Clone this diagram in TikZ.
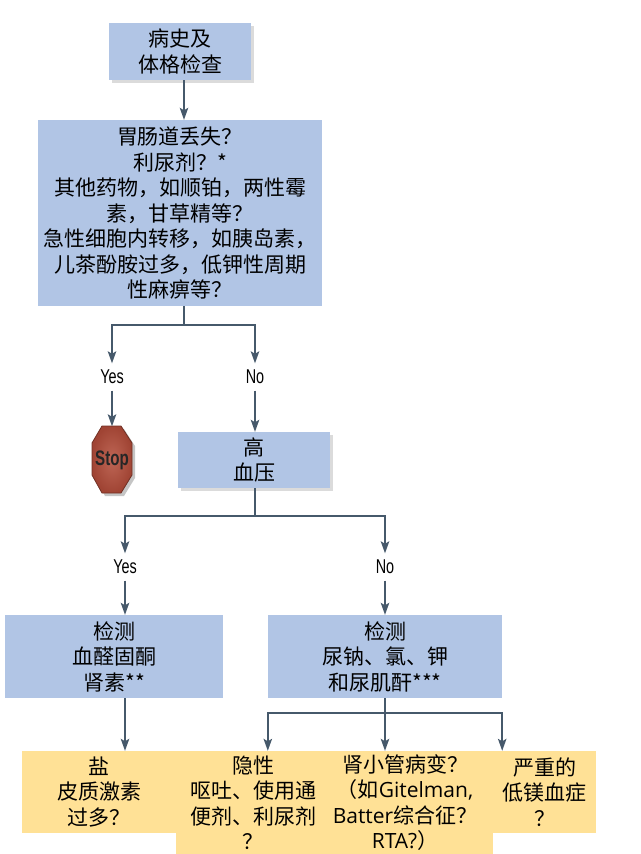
\documentclass[tikz,border=0pt]{standalone}
\usepackage{fontspec}
\setmainfont{Noto Sans CJK SC}
\newfontfamily\latinfont{Open Sans}
\newfontfamily\labelfont[FakeStretch=0.72]{Liberation Sans}
\usetikzlibrary{arrows.meta,shadows}
\definecolor{boxblue}{HTML}{B1C5E5}
\definecolor{boxyellow}{HTML}{FFE196}
\definecolor{linegray}{HTML}{46596B}
\definecolor{stopinner}{HTML}{BE6655}
\definecolor{stopouter}{HTML}{A04434}
\tikzset{
  flowbox/.style={fill=boxblue,inner sep=0pt,align=center,font=\fontsize{21}{25.5}\selectfont},
  endbox/.style={fill=boxyellow,inner sep=0pt,align=center,font=\fontsize{21}{25.5}\selectfont},
  softshadow/.style={drop shadow={shadow xshift=2.5pt,shadow yshift=-2.5pt,fill=black!35,opacity=0.4}},
  answer/.style={inner sep=0pt,minimum width=30pt,minimum height=27pt,font=\labelfont\fontsize{20}{22}\selectfont},
  link/.style={draw=linegray,line width=1.5pt},
  arrowlink/.style={link,-{Stealth[length=12pt,width=8.5pt,inset=2.5pt]}},
}
\begin{document}
\begin{tikzpicture}[x=1pt,y=-1pt]
  \useasboundingbox (0,0) rectangle (640,854);
  % boxes
  \node[flowbox,softshadow,minimum width=142pt,minimum height=57pt] (history) at (180,51.5) {病史及\\体格检查};
  \node[flowbox,minimum width=284pt,minimum height=186pt] (causes) at (180,213) {胃肠道丢失？\\利尿剂？*\\其他药物，如顺铂，两性霉\\素，甘草精等？\\急性细胞内转移，如胰岛素，\\儿茶酚胺过多，低钾性周期\\性麻痹等？};
  \node[flowbox,softshadow,minimum width=152pt,minimum height=56pt] (pressure) at (254,460) {高\\血压};
  \node[flowbox,minimum width=218pt,minimum height=83pt] (testleft) at (114,656.5) {检测\\血醛固酮\\肾素**};
  \node[flowbox,minimum width=234pt,minimum height=83pt] (testright) at (385,656.5) {检测\\尿钠、氯、钾\\和尿肌酐***};
  \node[endbox,minimum width=154pt,minimum height=82pt] (salt) at (99,792) {盐\\皮质激素\\过多？};
  \node[endbox,minimum width=154pt,minimum height=103pt] (occult) at (253,802.5) {隐性\\呕吐、使用通\\便剂、利尿剂\\？};
  \node[endbox,minimum width=176pt,minimum height=103pt] (tubule) at (405,802.5) {肾小管病变？\\（如{\latinfont Gitelman,}\\{\latinfont Batter}综合征？\\{\latinfont RTA?}）};
  \node[endbox,minimum width=103pt,minimum height=82pt] (magnesium) at (544.5,792) {严重的\\低镁血症\\？};
  % stop sign
  \draw[draw=stopouter!70!black,line width=0.8pt,inner color=stopinner,outer color=stopouter,
    drop shadow={shadow xshift=3pt,shadow yshift=-3pt,fill=black!45,opacity=0.5}]
    (102,426) -- (121,426) -- (132,443) -- (132,475) -- (121,493) -- (102,493) -- (92,475) -- (92,443) -- cycle;
  \node[inner sep=0pt,minimum width=40pt,minimum height=67pt,font=\labelfont\bfseries\fontsize{21}{23}\selectfont,text=black!85] (stop) at (112,460) {Stop};
  % yes and no
  \node[answer] (yesa) at (112,377) {Yes};
  \node[answer] (noa) at (255,377) {No};
  \node[answer] (yesb) at (125,567) {Yes};
  \node[answer] (nob) at (385,567) {No};
  % branch points
  \coordinate (splita) at (184,325);
  \coordinate (splitb) at (255,516);
  \coordinate (splitc) at (385,713);
  % connectors
  \draw[arrowlink] ([xshift=4pt]history.south) -- ([xshift=4pt]causes.north);
  \draw[link] ([xshift=4pt]causes.south) -- (splita);
  \draw[arrowlink] (splita) -| (yesa);
  \draw[arrowlink] (splita) -| (noa);
  \draw[arrowlink] (yesa) -- (stop);
  \draw[arrowlink] (noa) -- (noa |- pressure.north);
  \draw[link] (splitb |- pressure.south) -- (splitb);
  \draw[arrowlink] (splitb) -| (yesb);
  \draw[arrowlink] (splitb) -| (nob);
  \draw[arrowlink] (yesb) -- (yesb |- testleft.north);
  \draw[arrowlink] (nob) -- (testright);
  \draw[arrowlink] (yesb |- testleft.south) -- (yesb |- salt.north);
  \draw[arrowlink] (testright) -- (splitc |- tubule.north);
  \draw[arrowlink] (splitc) -| (testright.west |- occult.north);
  \draw[arrowlink] (splitc) -| (testright.east |- magnesium.north);
\end{tikzpicture}
\end{document}
